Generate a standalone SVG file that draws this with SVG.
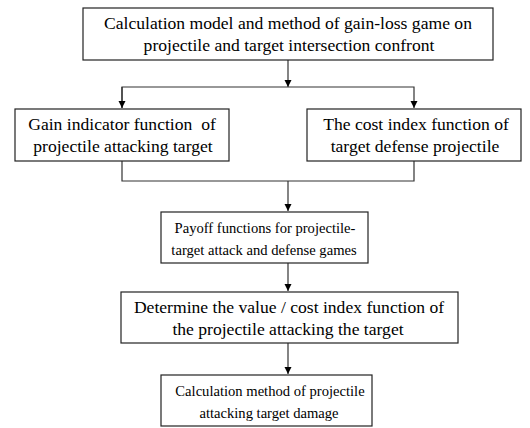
<svg xmlns="http://www.w3.org/2000/svg" width="530" height="428" viewBox="0 0 530 428">
<style>
.box{fill:#fff;stroke:#222;stroke-width:1.2}
.t{font-family:'Liberation Serif','Times New Roman',serif;font-size:17.6px;fill:#000;text-anchor:middle}
.s{font-size:14.6px}
.c{fill:none;stroke:#333;stroke-width:1.2}
</style>
<defs>
<marker id="ah" markerWidth="8" markerHeight="8" refX="7" refY="4" orient="auto" markerUnits="userSpaceOnUse">
<path d="M0,0.5 L7,4 L0,7.5 Z" fill="#000"/>
</marker>
</defs>
<rect width="530" height="428" fill="#fff"/>
<g id="connectors">
<line class="c" x1="288" y1="60" x2="288" y2="87" marker-end="url(#ah)"/>
<polyline class="c" points="122,108 122,87 414,87 414,108" marker-end="url(#ah)"/>
<line class="c" x1="122" y1="87" x2="122" y2="108" marker-end="url(#ah)"/>
<polyline class="c" points="122,161 122,181 414,181 414,161"/>
<line class="c" x1="288" y1="181" x2="288" y2="211" marker-end="url(#ah)"/>
<line class="c" x1="288" y1="263" x2="288" y2="291" marker-end="url(#ah)"/>
<line class="c" x1="288" y1="343" x2="288" y2="374" marker-end="url(#ah)"/>
</g>
<g id="n1">
<rect class="box" x="83" y="8" width="410" height="52"/>
<text class="t" x="288" y="29">Calculation model and method of gain-loss game on</text>
<text class="t" x="289" y="51">projectile and target intersection confront</text>
</g>
<g id="n2">
<rect class="box" x="15" y="109" width="214" height="52"/>
<text class="t" x="122" y="130" xml:space="preserve">Gain indicator function  of</text>
<text class="t" x="123" y="152">projectile attacking target</text>
</g>
<g id="n3">
<rect class="box" x="307" y="109" width="214" height="52"/>
<text class="t" x="416" y="130">The cost index function of</text>
<text class="t" x="415" y="152">target defense projectile</text>
</g>
<g id="n4">
<rect class="box" x="161" y="212" width="207" height="51"/>
<text class="t s" x="265" y="233">Payoff functions for projectile-</text>
<text class="t s" x="264" y="255">target attack and defense games</text>
</g>
<g id="n5">
<rect class="box" x="121" y="292" width="337" height="51"/>
<text class="t" x="289" y="313">Determine the value / cost index function of</text>
<text class="t" x="288" y="335">the projectile attacking the target</text>
</g>
<g id="n6">
<rect class="box" x="161" y="375" width="211" height="51"/>
<text class="t s" x="270" y="396">Calculation method of projectile</text>
<text class="t s" x="269" y="418">attacking target damage</text>
</g>
</svg>
